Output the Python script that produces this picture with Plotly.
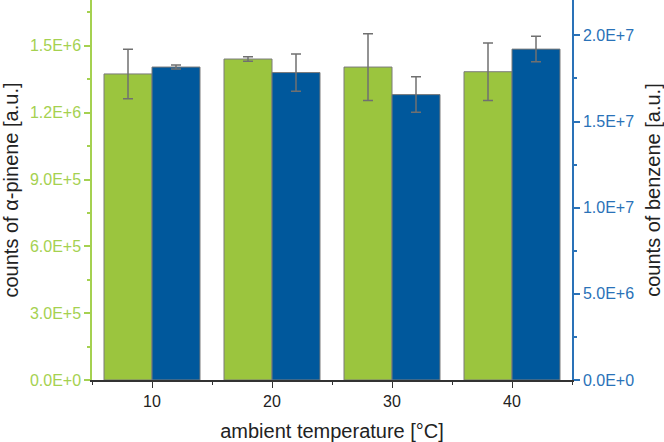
import plotly.graph_objects as go

temps = [10, 20, 30, 40]
pinene = [1.374e6, 1.441e6, 1.405e6, 1.384e6]
pinene_err = [0.111e6, 0.010e6, 0.150e6, 0.129e6]
benzene = [18.16e6, 17.84e6, 16.56e6, 19.20e6]
benzene_err = [0.12e6, 1.08e6, 1.03e6, 0.74e6]

left_ticks = [0, 3e5, 6e5, 9e5, 1.2e6, 1.5e6]
left_labels = ["0.0E+0", "3.0E+5", "6.0E+5", "9.0E+5", "1.2E+6", "1.5E+6"]
right_ticks = [0, 5e6, 1e7, 1.5e7, 2e7]
right_labels = ["0.0E+0", "5.0E+6", "1.0E+7", "1.5E+7", "2.0E+7"]

GREEN = "#9BC53E"
BLUE = "#00589C"
GREEN_AX = "#A5D150"
BLUE_AX = "#2A72B8"
FONT = "Arial, Liberation Sans, sans-serif"

fig = go.Figure()
fig.add_trace(go.Bar(
    x=temps, y=pinene, width=4, offset=-4,
    marker=dict(color=GREEN, line=dict(color="#7a7a7a", width=1)),
    error_y=dict(type="data", array=pinene_err, color="#707070", thickness=1.5, width=5),
    yaxis="y", showlegend=False,
))
fig.add_trace(go.Bar(
    x=temps, y=benzene, width=4, offset=0,
    marker=dict(color=BLUE, line=dict(color="#7a7a7a", width=1)),
    error_y=dict(type="data", array=benzene_err, color="#707070", thickness=1.5, width=5),
    yaxis="y2", showlegend=False,
))

fig.update_layout(
    width=664, height=442,
    margin=dict(l=92, r=92, t=0, b=62),
    paper_bgcolor="white", plot_bgcolor="white",
    font=dict(family=FONT, size=16, color="#222"),
    barmode="overlay",
    xaxis=dict(
        range=[5, 45], tickvals=temps, ticktext=[str(t) for t in temps],
        ticks="outside", ticklen=6, tickcolor="#333", tickwidth=1,
        showline=True, linecolor="#333", linewidth=1.5,
        showgrid=False, zeroline=False,
        minor=dict(dtick=5, tick0=5, ticks="outside", ticklen=3, tickcolor="#333", showgrid=False),
        title=dict(text="ambient temperature [°C]", font=dict(size=20, color="#222"), standoff=16),
        tickfont=dict(size=16, color="#222"),
    ),
    yaxis=dict(
        range=[0, 1.706e6], tickvals=left_ticks, ticktext=left_labels,
        ticks="outside", ticklen=6, tickcolor=GREEN_AX, tickwidth=1.5,
        showline=True, linecolor=GREEN_AX, linewidth=1.5,
        showgrid=False, zeroline=False,
        minor=dict(dtick=1.5e5, tick0=0, ticks="outside", ticklen=3, tickcolor=GREEN_AX, showgrid=False),
        tickfont=dict(size=16, color=GREEN_AX),
        title=dict(text="counts of α-pinene [a.u.]", font=dict(size=20, color="#222"), standoff=9),
    ),
    yaxis2=dict(
        overlaying="y", side="right",
        range=[0, 2.205e7], tickvals=right_ticks, ticktext=right_labels,
        ticks="outside", ticklen=6, tickcolor=BLUE_AX, tickwidth=1.5,
        showline=True, linecolor=BLUE_AX, linewidth=1.5,
        showgrid=False, zeroline=False,
        minor=dict(dtick=2.5e6, tick0=0, ticks="outside", ticklen=3, tickcolor=BLUE_AX, showgrid=False),
        tickfont=dict(size=16, color=BLUE_AX),
        title=dict(text="counts of benzene [a.u.]", font=dict(size=20, color="#222"), standoff=13),
    ),
)

fig.write_html("out.html")
